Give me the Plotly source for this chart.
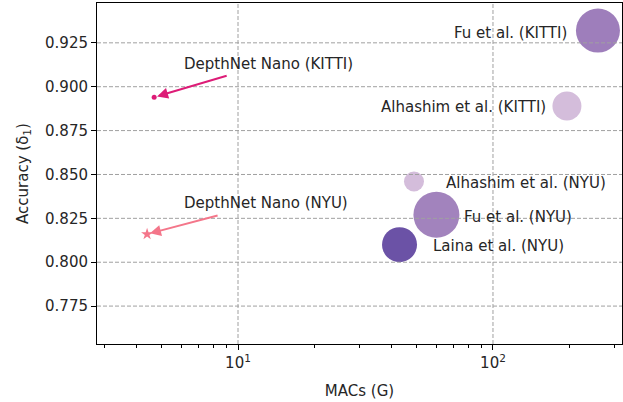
import numpy as np
import plotly.graph_objects as go

# Published depth-estimation models: compute cost vs. accuracy
methods = ["Fu et al. (KITTI)", "Alhashim et al. (KITTI)", "Alhashim et al. (NYU)",
           "Fu et al. (NYU)", "Laina et al. (NYU)"]
macs = [258, 195, 49, 60, 43]
accuracy = [0.932, 0.889, 0.846, 0.827, 0.810]

# DepthNet Nano results
nano_labels = ["DepthNet Nano (KITTI)", "DepthNet Nano (NYU)"]
nano_macs = [4.69, 4.4]
nano_accuracy = [0.894, 0.816]

# Axis ticks
y_ticks = [0.775, 0.800, 0.825, 0.850, 0.875, 0.900, 0.925]
x_major = [10, 100]
x_major_text = ["10<sup>1</sup>", "10<sup>2</sup>"]
x_minor = [3, 4, 5, 6, 7, 8, 9, 20, 30, 40, 50, 60, 70, 80, 90, 200, 300]

# Styling
bubble_sizes = [44, 29, 20, 46, 35]
bubble_colors = ["#9e7ebb", "#d4bddb", "#d4bddb", "#a283bd", "#6b52a6"]
nano_colors = ["#dd1c77", "#f4768a"]
nano_symbols = ["circle", "star"]
nano_sizes = [5, 9]

x_range = [0.447, 2.506]
y_range = [0.7534, 0.9477]

FONT = "DejaVu Sans"
TXT = "#262626"

fig = go.Figure()

fig.add_trace(go.Scatter(
    x=macs, y=accuracy, mode="markers",
    marker=dict(size=bubble_sizes, color=bubble_colors, opacity=1, line=dict(width=0)),
    showlegend=False, hoverinfo="text", text=methods,
))

for lab, mx, my, col, sym, sz in zip(nano_labels, nano_macs, nano_accuracy,
                                     nano_colors, nano_symbols, nano_sizes):
    fig.add_trace(go.Scatter(
        x=[mx], y=[my], mode="markers",
        marker=dict(size=sz, color=col, symbol=sym, opacity=1, line=dict(width=0)),
        showlegend=False, hoverinfo="text", text=[lab],
    ))

# dashed grid drawn over the bubbles
grid_style = dict(color="#a0a0a0", width=1, dash="4px,2px")
for yv in y_ticks:
    fig.add_trace(go.Scatter(x=[10 ** x_range[0], 10 ** x_range[1]], y=[yv, yv],
                             mode="lines", line=grid_style,
                             showlegend=False, hoverinfo="skip"))
for xv in x_major:
    fig.add_trace(go.Scatter(x=[xv, xv], y=y_range, mode="lines", line=grid_style,
                             showlegend=False, hoverinfo="skip"))

annotations = []

# method labels: (x, y, anchor)
label_pos = [
    (198, 0.9307, "right"),
    (164, 0.8886, "right"),
    (64.3, 0.8449, "left"),
    (75.5, 0.8256, "left"),
    (57.2, 0.8091, "left"),
]
for name, (lx, ly, anc) in zip(methods, label_pos):
    annotations.append(dict(
        x=np.log10(lx), y=ly, xref="x", yref="y", text=name, showarrow=False,
        xanchor=anc, yanchor="middle", font=dict(family=FONT, size=15, color=TXT),
    ))

# DepthNet Nano labels and arrows
nano_text_pos = [(6.03, 0.9131), (6.03, 0.8335)]
arrow_offsets = [(74, -22), (72, -19)]
for lab, mx, my, col, (tx, ty), (ax, ay) in zip(nano_labels, nano_macs, nano_accuracy,
                                                nano_colors, nano_text_pos, arrow_offsets):
    annotations.append(dict(
        x=np.log10(tx), y=ty, xref="x", yref="y", text=lab, showarrow=False,
        xanchor="left", yanchor="middle", font=dict(family=FONT, size=15, color=TXT),
    ))
    annotations.append(dict(
        x=np.log10(mx), y=my, xref="x", yref="y", text="", showarrow=True,
        ax=ax, ay=ay, arrowcolor=col, arrowwidth=2, arrowhead=2, arrowsize=1.1,
        standoff=3,
    ))

fig.update_layout(
    width=623, height=402,
    margin=dict(l=97, r=1, t=3, b=58),
    paper_bgcolor="white", plot_bgcolor="white",
    font=dict(family=FONT, size=15, color=TXT),
    annotations=annotations,
    xaxis=dict(
        type="log", range=x_range,
        tickmode="array", tickvals=x_major, ticktext=x_major_text,
        ticks="outside", ticklen=5, tickwidth=1, tickcolor="black",
        minor=dict(tickmode="array", tickvals=x_minor, ticks="outside",
                   ticklen=3, tickwidth=1, tickcolor="black", showgrid=False),
        showgrid=False, zeroline=False,
        showline=True, linecolor="black", linewidth=1, mirror=True,
        title=dict(text="MACs (G)", standoff=14, font=dict(size=15)),
        tickfont=dict(size=15),
    ),
    yaxis=dict(
        range=y_range, tickmode="array", tickvals=y_ticks, tickformat=".3f",
        ticks="outside", ticklen=5, tickwidth=1, tickcolor="black",
        showgrid=False, zeroline=False,
        showline=True, linecolor="black", linewidth=1, mirror=True,
        title=dict(text="Accuracy (δ<sub>1</sub>)", standoff=12, font=dict(size=15)),
        tickfont=dict(size=15),
    ),
)

fig.write_html("out.html")
